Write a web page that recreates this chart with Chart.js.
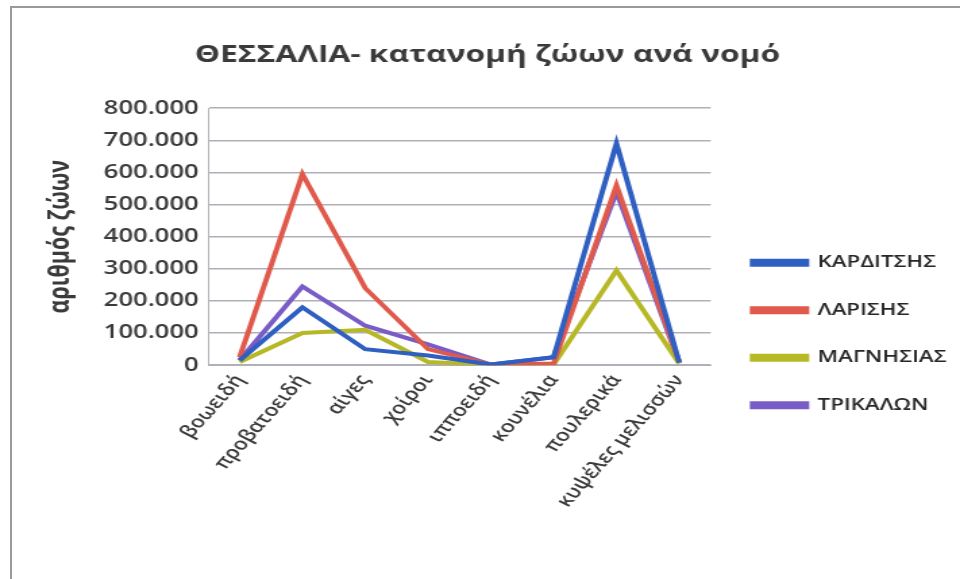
<!DOCTYPE html>
<html>
<head>
<meta charset="utf-8">
<script src="https://cdn.jsdelivr.net/npm/chart.js@4"></script>
<style>
  html, body { margin: 0; padding: 0; background: #fff; overflow: hidden; }
  .wrap { position: absolute; left: 0; top: 0; width: 960px; height: 579px; }
  .frame { position: absolute; left: 10px; top: 6px; width: 980px; height: 600px; border: 2px solid #9a9a9a; box-sizing: border-box; pointer-events: none; }
  /* the source picture is stretched sideways, so the canvas is drawn narrow and widened */
  #chart-1 { width: 960px !important; height: 579px !important; }
</style>
</head>
<body>
<div class="wrap"><canvas id="chart-1" width="711" height="579" style="width:960px;height:579px"></canvas></div>
<div class="frame"></div>
<script>
// categories and values per prefecture
const categories = ['βοωειδή', 'προβατοειδή', 'αίγες', 'χοίροι', 'ιπποειδή', 'κουνέλια', 'πουλερικά', 'κυψέλες μελισσών'];
const karditsis = [15000, 180000, 50000, 30000, 2000, 25000, 690000, 8000];
const larisis   = [25000, 595000, 240000, 50000, 2000, 5000, 560000, 10000];
const magnisias = [10000, 100000, 110000, 10000, 1000, 2000, 295000, 5000];
const trikalon  = [15000, 245000, 123000, 65000, 2000, 25000, 540000, 8000];
const seriesNames = ['ΚΑΡΔΙΤΣΗΣ', 'ΛΑΡΙΣΗΣ', 'ΜΑΓΝΗΣΙΑΣ', 'ΤΡΙΚΑΛΩΝ'];
const colors = ['#2f5fc0', '#e05a4c', '#b6b826', '#7a5cc6'];

const font = "'Open Sans', sans-serif";
const grey = '#3a3a3a';

function fmt(v) {
  return v.toString().replace(/\B(?=(\d{3})+(?!\d))/g, '.');
}

const ctx = document.getElementById('chart-1').getContext('2d');
let myChart = new Chart(ctx, {
  type: 'line',
  data: {
    labels: categories,
    datasets: [karditsis, larisis, magnisias, trikalon].map(function (d, i) {
      return {
        label: seriesNames[i],
        data: d,
        borderColor: colors[i],
        backgroundColor: colors[i],
        borderWidth: 4,
        pointRadius: 0,
        tension: 0
      };
    })
  },
  options: {
    responsive: false,
    animation: false,
    devicePixelRatio: 1,
    layout: { padding: { left: 11, right: 0, top: 41, bottom: 62 } },
    plugins: {
      tooltip: { enabled: false },
      title: {
        display: true,
        text: 'ΘΕΣΣΑΛΙΑ- κατανομή ζώων ανά νομό',
        color: grey,
        font: { family: font, size: 23.5, weight: 'bold' },
        padding: { top: 0, bottom: 39 }
      },
      legend: {
        position: 'right',
        align: 'center',
        maxWidth: 200,
        // empty title only pushes the entries down
        title: { display: true, text: ' ', font: { size: 10 }, padding: { top: 49, bottom: 49 } },
        labels: {
          color: '#262626',
          font: { family: font, size: 16.5, weight: '600' },
          boxWidth: 40,
          boxHeight: 4,
          padding: 31
        }
      }
    },
    scales: {
      x: {
        offset: true,
        grid: { display: false, drawTicks: false },
        border: { color: '#b0b0b8', width: 1 },
        ticks: {
          color: grey,
          font: { family: font, size: 17, weight: '600' },
          maxRotation: 56,
          minRotation: 56,
          padding: 6
        }
      },
      y: {
        min: 0,
        max: 800000,
        grid: { color: '#b0b0b8', lineWidth: 1.5, drawTicks: false },
        border: { color: '#b0b0b8', width: 1 },
        ticks: {
          stepSize: 100000,
          color: grey,
          font: { family: font, size: 19, weight: '600' },
          padding: 7,
          callback: function (v) { return fmt(v); }
        },
        title: {
          display: true,
          text: 'αριθμός ζώων',
          color: grey,
          font: { family: font, size: 21.5, weight: 'bold' },
          padding: { top: 21, bottom: 12 }
        }
      }
    }
  }
});
</script>
</body>
</html>
